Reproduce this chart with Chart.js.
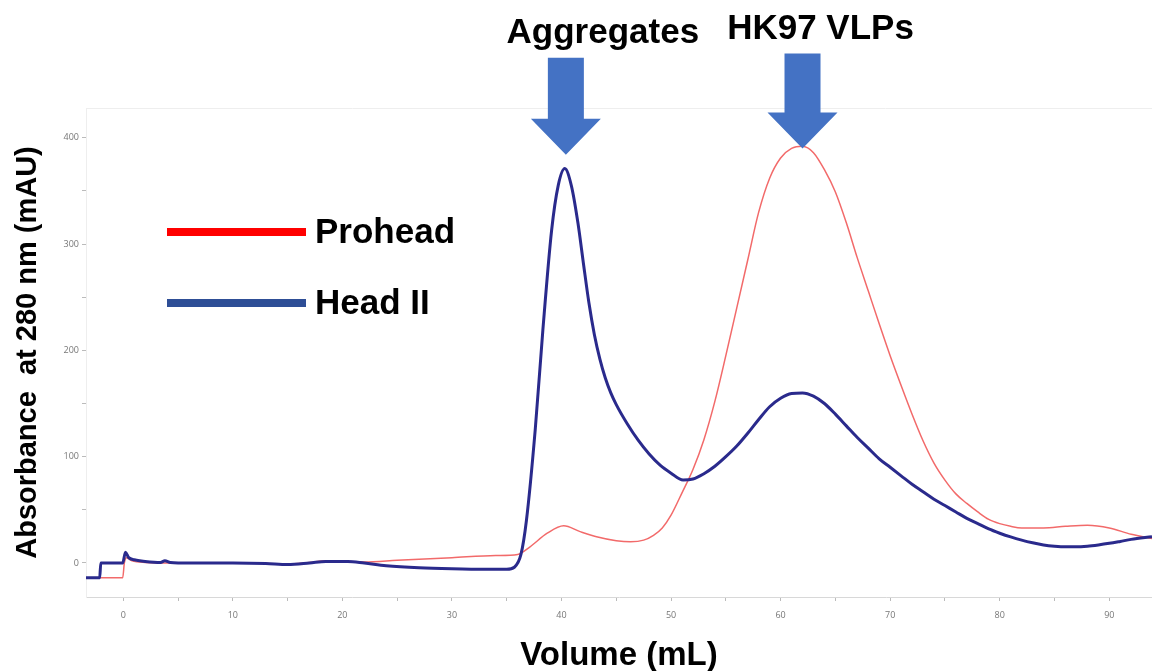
<!DOCTYPE html>
<html>
<head>
<meta charset="utf-8">
<script src="https://cdn.jsdelivr.net/npm/chart.js@4"></script>
<style>
  html, body { margin: 0; padding: 0; background: #fff; }
  #wrap { width: 1152px; height: 671px; position: relative; }
</style>
</head>
<body>
<div id="wrap"><canvas id="graph"></canvas></div>
<script>
// elution volume (mL) and absorbance (mAU)
var proheadVol = [-3.4, -0.05, 0.1, 0.3, 0.8, 2, 5, 10, 13, 15, 17, 18.5, 20, 22, 25, 30, 34, 36, 37.1, 38.7, 40.2, 41.7, 43.2, 45, 46.3, 47.5, 48.4, 49.2, 50, 51, 52, 53, 54, 55, 56, 57, 58, 59, 60, 61, 62, 63, 64, 65, 66, 67, 68, 69, 70, 71, 72, 73, 74, 75, 76, 77, 78, 79, 80, 81, 82, 84, 86, 88, 90, 92, 93.9]
var proheadAbs = [-14, -14, 0, 5, 2, 0.5, 0, 0, -0.5, -1, 0.5, 2, 1.5, 1, 2.5, 5, 7, 8, 15, 28, 35, 29.5, 24.7, 21, 20, 21.5, 26, 33, 45, 66, 88, 116, 152, 195, 240, 285, 330, 362, 381, 390, 392, 386, 370, 349, 320, 287, 256, 225, 195, 167, 140, 115, 94, 78, 65, 56, 48, 41, 37, 34.5, 33, 33, 34.5, 35.5, 33, 27, 23]

var headIIVol = [-3.4, -2.15, -2.05, -0.05, 0.2, 0.5, 1, 2, 3.4, 3.8, 4.3, 6, 10, 13, 15, 17, 18.5, 20.5, 22, 24, 27, 30, 33, 35, 35.7, 36.3, 36.8, 37.6, 38.3, 39.1, 39.7, 40.3, 40.9, 41.5, 42, 42.5, 43, 43.5, 44, 44.5, 45, 46, 47, 48, 49, 50, 51.1, 52, 53, 54, 55, 56, 57, 58, 59, 60, 61, 62, 63, 64, 65, 66, 67, 68, 69, 70, 71, 72, 73, 74, 75, 76, 77, 78, 79, 80, 81, 82, 83, 84, 85, 86, 87, 88, 89, 90, 91, 92, 93.9]
var headIIAbs = [-14, -14, 0, 0, 10, 5, 3, 1.5, 0.5, 2, 0.5, 0, 0, -0.5, -1.5, 0, 1.5, 1.5, 0, -2.5, -4.5, -5.5, -6, -6, -4, 8, 40, 125, 219, 313, 355, 371, 355, 320, 282, 245, 215, 192, 174, 160, 149, 131, 115.5, 102.5, 92, 84.5, 78, 79, 84, 91, 100, 110, 122, 135, 147, 155, 159.5, 160, 157, 150, 140, 129, 118, 108, 98, 90, 82, 74, 67, 60, 54, 48, 42, 37, 32, 28, 24.5, 21.5, 19, 17, 15.8, 15.2, 15.2, 15.8, 17, 18.5, 20.3, 22.2, 24.7]

// peak annotations: label, volume of arrow, absorbance at arrow tip
var peakLabels = ["Aggregates", "HK97 VLPs"]
var peakVol = [40.4, 62.0]
var peakTip = [384, 390]

var seriesNames = ["Prohead", "Head II"]

function toPoints(xs, ys) {
    var pts = []
    for (var i = 0; i < xs.length; i++) {
        pts.push({ x: xs[i], y: ys[i] })
    }
    return pts
}

var FONT = "'Liberation Sans', Arial, sans-serif"

// arrows, peak labels and the hand drawn legend
var overlay = {
    id: "overlay",
    afterDraw: function (chart) {
        var ctx = chart.ctx
        var xs = chart.scales.x
        var ys = chart.scales.y
        var area = chart.chartArea

        // faint top border of the plot box
        ctx.save()
        ctx.strokeStyle = "#eeeeee"
        ctx.lineWidth = 1
        ctx.beginPath()
        ctx.moveTo(area.left, area.top + 0.5)
        ctx.lineTo(area.right, area.top + 0.5)
        ctx.stroke()
        ctx.restore()

        var arrowLen = [97, 95]
        var labelShift = [37, 18]
        var labelBase = [43, 39]
        for (var i = 0; i < peakLabels.length; i++) {
            var cx = xs.getPixelForValue(peakVol[i])
            var tip = ys.getPixelForValue(peakTip[i])
            var top = tip - arrowLen[i]
            var headH = 36
            ctx.save()
            ctx.fillStyle = "#4472C4"
            ctx.beginPath()
            ctx.moveTo(cx - 18, top)
            ctx.lineTo(cx + 18, top)
            ctx.lineTo(cx + 18, tip - headH)
            ctx.lineTo(cx + 35, tip - headH)
            ctx.lineTo(cx, tip)
            ctx.lineTo(cx - 35, tip - headH)
            ctx.lineTo(cx - 18, tip - headH)
            ctx.closePath()
            ctx.fill()

            ctx.fillStyle = "#000"
            ctx.font = "bold 35px " + FONT
            ctx.textAlign = "center"
            ctx.textBaseline = "alphabetic"
            ctx.fillText(peakLabels[i], cx + labelShift[i], labelBase[i])
            ctx.restore()
        }

        // legend
        var legendColors = ["#FF0000", "#2E4E96"]
        var legendY = [232, 303]
        for (var j = 0; j < seriesNames.length; j++) {
            ctx.save()
            ctx.strokeStyle = legendColors[j]
            ctx.lineWidth = 8
            ctx.beginPath()
            ctx.moveTo(167, legendY[j])
            ctx.lineTo(306, legendY[j])
            ctx.stroke()
            ctx.fillStyle = "#000"
            ctx.font = "bold 35px " + FONT
            ctx.textAlign = "left"
            ctx.textBaseline = "middle"
            ctx.fillText(seriesNames[j], 315, legendY[j] + 1)
            ctx.restore()
        }
    }
}

var config = {
    type: "line",
    data: {
        datasets: [
            {
                label: seriesNames[1],
                data: toPoints(headIIVol, headIIAbs),
                borderColor: "#2A2A8C",
                borderWidth: 3,
                pointRadius: 0,
                cubicInterpolationMode: "monotone",
                fill: false
            },
            {
                label: seriesNames[0],
                data: toPoints(proheadVol, proheadAbs),
                borderColor: "#F26A6A",
                borderWidth: 1.5,
                pointRadius: 0,
                cubicInterpolationMode: "monotone",
                fill: false
            }
        ]
    },
    options: {
        responsive: true,
        maintainAspectRatio: false,
        animation: false,
        layout: { padding: { left: 8, top: 108, right: 0, bottom: 0 } },
        plugins: { legend: { display: false }, tooltip: { enabled: false } },
        scales: {
            x: {
                type: "linear",
                min: -3.4,
                max: 93.9,
                afterFit: function (scale) { scale.height = 74 },
                ticks: {
                    stepSize: 5,
                    includeBounds: false,
                    autoSkip: false,
                    maxRotation: 0,
                    padding: 9,
                    color: "#777",
                    font: { family: "'Open Sans', sans-serif", size: 9 },
                    callback: function (v) { return v % 10 === 0 ? v : "" }
                },
                grid: { drawOnChartArea: false, drawTicks: true, tickLength: 4, color: "#bbb" },
                border: { color: "#d8d8d8" },
                title: {
                    display: true,
                    text: "Volume (mL)",
                    color: "#000",
                    font: { family: FONT, size: 33, weight: "bold" },
                    padding: { top: -5, bottom: -5 }
                }
            },
            y: {
                min: -32,
                max: 428,
                afterFit: function (scale) { scale.width = 78 },
                ticks: {
                    stepSize: 50,
                    includeBounds: false,
                    padding: 3,
                    color: "#777",
                    font: { family: "'Open Sans', sans-serif", size: 9 },
                    callback: function (v) { return v % 100 === 0 ? v : "" }
                },
                grid: { drawOnChartArea: false, drawTicks: true, tickLength: 4, color: "#bbb" },
                border: { color: "#eeeeee" },
                title: {
                    display: true,
                    text: "Absorbance  at 280 nm (mAU)",
                    color: "#000",
                    font: { family: FONT, size: 29, weight: "bold" },
                    padding: { top: 3, bottom: 0 }
                }
            }
        }
    },
    plugins: [overlay]
}

var graph = new Chart(document.getElementById("graph"), config)
</script>
</body>
</html>
